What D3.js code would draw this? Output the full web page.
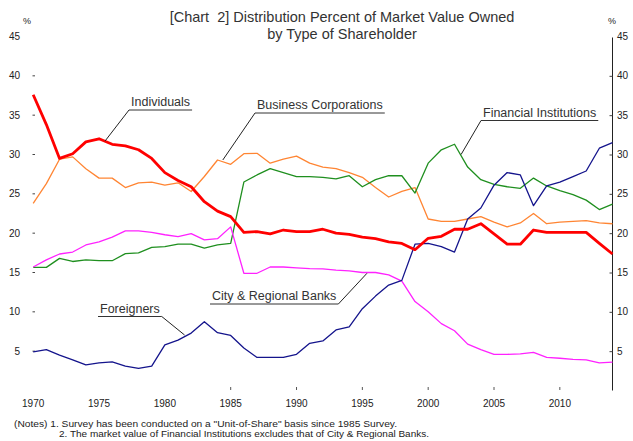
<!DOCTYPE html>
<html>
<head>
<meta charset="utf-8">
<script src="https://cdn.jsdelivr.net/npm/d3@7"></script>
<style>
  body { margin: 0; background: #fff; }
  svg { display: block; font-family: "Liberation Sans", Arial, sans-serif; }
</style>
</head>
<body>
<div id="viz"></div>
<script>
const WIDTH = 633, HEIGHT = 441;

// Survey years 1970-2014
const years = d3.range(1970, 2015);

// Distribution percent of market value, by type of shareholder
const individuals = [37.6, 33.8, 29.5, 30.1, 31.6, 32.0, 31.3, 31.1, 30.6, 29.5,
  27.7, 26.7, 25.9, 24.0, 22.8, 22.1, 20.1, 20.2, 19.9, 20.4,
  20.2, 20.2, 20.5, 20.0, 19.85, 19.5, 19.3, 18.9, 18.7, 17.9,
  19.35, 19.6, 20.5, 20.5, 21.2, 19.9, 18.6, 18.6, 20.4, 20.1,
  20.1, 20.1, 20.1, 18.7, 17.35];
const businessCorps = [23.8, 26.3, 29.4, 29.7, 28.2, 27.0, 27.0, 25.8, 26.4, 26.5,
  26.1, 26.4, 25.3, 27.2, 29.3, 28.75, 30.1, 30.15, 28.9, 29.4,
  29.8, 28.9, 28.4, 28.2, 27.7, 27.1, 25.8, 24.6, 25.3, 25.8,
  21.8, 21.5, 21.5, 21.8, 22.1, 21.4, 20.8, 21.3, 22.5, 21.2,
  21.4, 21.5, 21.6, 21.3, 21.2];
const financialInst = [15.65, 15.65, 16.8, 16.4, 16.6, 16.5, 16.5, 17.4, 17.5, 18.2,
  18.3, 18.6, 18.6, 18.1, 18.5, 18.7, 26.5, 27.4, 28.2, 27.7,
  27.2, 27.2, 27.1, 26.9, 27.3, 25.9, 26.8, 27.3, 27.3, 25.1,
  28.9, 30.6, 31.3, 28.4, 26.8, 26.2, 25.9, 25.7, 27.0, 26.0,
  25.4, 24.9, 24.2, 23.0, 23.7];
const cityRegionalBanks = [15.7, 16.6, 17.35, 17.6, 18.5, 18.9, 19.5, 20.3, 20.3, 20.1,
  19.8, 19.55, 19.95, 19.15, 19.3, 20.8, 14.9, 14.9, 15.7, 15.7,
  15.6, 15.5, 15.45, 15.3, 15.2, 15.0, 15.0, 14.7, 13.9, 11.3,
  10.0, 8.5, 7.6, 5.9, 5.2, 4.6, 4.6, 4.65, 4.85, 4.2,
  4.1, 3.95, 3.9, 3.5, 3.6];
const foreigners = [4.9, 5.2, 4.5, 3.9, 3.25, 3.5, 3.65, 3.1, 2.8, 3.1,
  5.8, 6.4, 7.3, 8.75, 7.35, 7.0, 5.4, 4.2, 4.2, 4.2,
  4.6, 6.0, 6.3, 7.7, 8.1, 10.4, 12.0, 13.4, 14.0, 18.6,
  18.7, 18.3, 17.6, 21.8, 23.2, 26.1, 27.7, 27.4, 23.5, 26.0,
  26.5, 27.2, 27.9, 30.8, 31.5];

const yTicks = [5, 10, 15, 20, 25, 30, 35, 40, 45];
const xTicks = [1970, 1975, 1980, 1985, 1990, 1995, 2000, 2005, 2010];

const series = [
  { name: "Business Corporations", values: businessCorps, color: "#ff8533", width: 1.3 },
  { name: "Financial Institutions", values: financialInst, color: "#1f8f1f", width: 1.3 },
  { name: "City & Regional Banks", values: cityRegionalBanks, color: "#ff22ff", width: 1.3 },
  { name: "Foreigners", values: foreigners, color: "#14148c", width: 1.3 },
  { name: "Individuals", values: individuals, color: "#ff0000", width: 2.8 }
];

// label boxes: text baseline position, underline side the leader leaves from, and pointed [year, value]
const labels = [
  { text: "Individuals", x: 131, y: 106, side: "left", target: [1975.45, 31.7] },
  { text: "Business Corporations", x: 257, y: 109, side: "left", target: [1984.4, 29.3] },
  { text: "Financial Institutions", x: 483, y: 116.5, side: "left", target: [2002.5, 30.0] },
  { text: "City & Regional Banks", x: 212, y: 300, side: "right", target: [1995.35, 14.9] },
  { text: "Foreigners", x: 100, y: 312.5, side: "right", target: [1981.5, 7.05] }
];

const x = d3.scaleLinear().domain([1970, 2014]).range([33.2, 612.5]);
const y = d3.scaleLinear().domain([0, 45]).range([390.5, 36.5]);

const svg = d3.select("#viz").append("svg")
  .attr("width", WIDTH)
  .attr("height", HEIGHT);

// title
svg.append("text")
  .attr("x", 342).attr("y", 22)
  .attr("text-anchor", "middle")
  .style("font-size", "14.5px")
  .style("white-space", "pre")
  .style("fill", "#333")
  .text("[Chart  2] Distribution Percent of Market Value Owned");
svg.append("text")
  .attr("x", 342).attr("y", 38.5)
  .attr("text-anchor", "middle")
  .style("font-size", "14.5px")
  .style("fill", "#333")
  .text("by Type of Shareholder");

// left axis (labels + small dashes, no line)
const left = svg.append("g");
left.selectAll("text")
  .data(yTicks)
  .join("text")
  .attr("x", 20)
  .attr("y", d => y(d) + 3.5)
  .attr("text-anchor", "end")
  .style("font-size", "10px")
  .style("fill", "#222")
  .text(d => d);
left.selectAll("line")
  .data(yTicks.filter(d => d < 45))
  .join("line")
  .attr("x1", 32.5).attr("x2", 35)
  .attr("y1", d => y(d)).attr("y2", d => y(d))
  .attr("stroke", "#444");
svg.append("text")
  .attr("x", 23).attr("y", 24)
  .style("font-size", "9px")
  .style("fill", "#222")
  .text("%");

// right axis
const right = svg.append("g")
  .attr("transform", `translate(${x(2014)},0)`)
  .call(d3.axisRight(y).tickValues(yTicks.filter(d => d < 45)).tickSize(0).tickFormat(""));
right.select(".domain").attr("stroke", "#222").attr("d", `M0,${y(45) + 1}V${y(0)}`);
right.selectAll(".tick line").attr("x1", -3).attr("x2", 0).attr("stroke", "#444");
svg.append("g").selectAll("text")
  .data(yTicks)
  .join("text")
  .attr("x", 617)
  .attr("y", d => y(d) + 3.5)
  .style("font-size", "10px")
  .style("fill", "#222")
  .text(d => d);
svg.append("text")
  .attr("x", 608).attr("y", 24)
  .style("font-size", "9px")
  .style("fill", "#222")
  .text("%");

// bottom labels
const bottom = svg.append("g");
bottom.selectAll("text")
  .data(xTicks)
  .join("text")
  .attr("x", d => x(d))
  .attr("y", 407)
  .attr("text-anchor", "middle")
  .style("font-size", "10px")
  .style("fill", "#222")
  .text(d => d);
bottom.selectAll("line")
  .data(xTicks.filter(d => d > 1980))
  .join("line")
  .attr("x1", d => x(d)).attr("x2", d => x(d))
  .attr("y1", 387).attr("y2", 390)
  .attr("stroke", "#555");

// lines
const line = d3.line()
  .x((d, i) => x(years[i]))
  .y(d => y(d));

svg.append("g")
  .selectAll("path")
  .data(series)
  .join("path")
  .attr("d", d => line(d.values))
  .attr("fill", "none")
  .attr("stroke", d => d.color)
  .attr("stroke-width", d => d.width)
  .attr("stroke-linejoin", "round");

// labels with underline and leader
const lab = svg.append("g").selectAll("g")
  .data(labels)
  .join("g");
lab.append("text")
  .attr("x", d => d.x)
  .attr("y", d => d.y)
  .style("font-size", "12.5px")
  .style("fill", "#333")
  .text(d => d.text)
  .each(function(d) { d.w = this.getComputedTextLength(); });
lab.append("line")
  .attr("x1", d => d.x - 2).attr("x2", d => d.x + d.w + 2)
  .attr("y1", d => d.y + 4).attr("y2", d => d.y + 4)
  .attr("stroke", "#333");
lab.append("line")
  .attr("x1", d => d.side === "left" ? d.x - 2 : d.x + d.w + 2)
  .attr("y1", d => d.y + 4)
  .attr("x2", d => x(d.target[0]))
  .attr("y2", d => y(d.target[1]))
  .attr("stroke", "#222");

// notes
svg.append("text")
  .attr("x", 14).attr("y", 427)
  .style("font-size", "9px")
  .style("fill", "#222")
  .attr("textLength", 383)
  .attr("lengthAdjust", "spacingAndGlyphs")
  .text("(Notes) 1. Survey has been conducted on a \"Unit-of-Share\" basis since 1985 Survey.");
svg.append("text")
  .attr("x", 59).attr("y", 437)
  .style("font-size", "9px")
  .style("fill", "#222")
  .attr("textLength", 370)
  .attr("lengthAdjust", "spacingAndGlyphs")
  .text("2. The market value of Financial Institutions excludes that of City & Regional Banks.");
</script>
</body>
</html>
